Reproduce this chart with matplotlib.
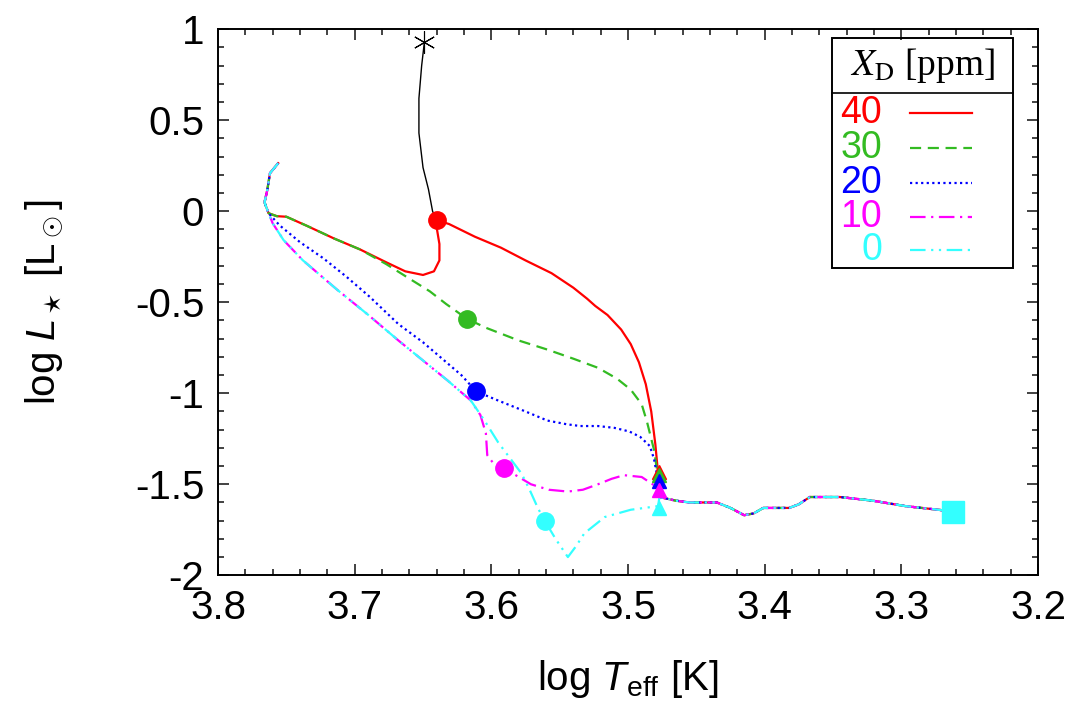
import matplotlib.pyplot as plt
from matplotlib.patches import Rectangle
from matplotlib.lines import Line2D
from matplotlib.ticker import MultipleLocator

plt.rcParams['font.family'] = ['Liberation Sans', 'DejaVu Sans']
plt.rcParams['mathtext.fontset'] = 'custom'
plt.rcParams['mathtext.rm'] = 'Liberation Sans'
plt.rcParams['mathtext.it'] = 'Liberation Sans:italic'

# wspolny poczatek (haczyk) i wspolny ogon torow ewolucyjnych
hook_T = [3.756, 3.762, 3.764, 3.766, 3.763]
hook_L = [0.264, 0.209, 0.115, 0.049, -0.011]
tail_T = [3.477, 3.465, 3.455, 3.445, 3.435, 3.425, 3.415, 3.408, 3.401,
          3.390, 3.382, 3.375, 3.367, 3.355, 3.345, 3.321, 3.297, 3.273, 3.262]
tail_L = [-1.57, -1.59, -1.60, -1.60, -1.60, -1.63, -1.67, -1.66, -1.63,
          -1.63, -1.63, -1.61, -1.57, -1.57, -1.57, -1.59, -1.62, -1.64, -1.65]

# X_D = 40 ppm
T40 = [3.757, 3.750, 3.735, 3.715, 3.696, 3.677, 3.663, 3.650, 3.642, 3.638,
       3.638, 3.640, 3.640, 3.631, 3.612, 3.593, 3.575, 3.556, 3.540, 3.530,
       3.524, 3.515, 3.505, 3.498, 3.492, 3.487, 3.483, 3.480, 3.478]
L40 = [-0.027, -0.03, -0.08, -0.15, -0.21, -0.28, -0.33, -0.35, -0.33, -0.27,
       -0.18, -0.09, -0.05, -0.07, -0.14, -0.20, -0.27, -0.34, -0.42, -0.48,
       -0.52, -0.57, -0.65, -0.73, -0.83, -0.95, -1.10, -1.28, -1.44]
# X_D = 30 ppm
T30 = [3.757, 3.750, 3.735, 3.715, 3.696, 3.677, 3.660, 3.645, 3.633, 3.618,
       3.604, 3.580, 3.559, 3.540, 3.522, 3.508, 3.498, 3.490, 3.486, 3.481,
       3.478]
L30 = [-0.027, -0.03, -0.08, -0.15, -0.21, -0.29, -0.37, -0.44, -0.51, -0.59,
       -0.64, -0.71, -0.76, -0.81, -0.86, -0.92, -0.98, -1.06, -1.16, -1.31,
       -1.46]
# X_D = 20 ppm
T20 = [3.755, 3.740, 3.723, 3.706, 3.689, 3.668, 3.650, 3.636, 3.622, 3.611,
       3.595, 3.575, 3.559, 3.545, 3.535, 3.522, 3.510, 3.499, 3.491, 3.484,
       3.481, 3.478]
L20 = [-0.077, -0.17, -0.258, -0.36, -0.47, -0.62, -0.72, -0.81, -0.90, -0.99,
       -1.04, -1.10, -1.15, -1.17, -1.18, -1.18, -1.19, -1.21, -1.24, -1.29,
       -1.36, -1.48]
# X_D = 10 ppm
T10 = [3.760, 3.752, 3.738, 3.713, 3.690, 3.668, 3.650, 3.632, 3.615, 3.608,
       3.604, 3.603, 3.598, 3.591, 3.580, 3.571, 3.558, 3.544, 3.533, 3.522,
       3.512, 3.503, 3.490, 3.478]
L10 = [-0.066, -0.159, -0.269, -0.43, -0.57, -0.71, -0.82, -0.93, -1.04, -1.12,
       -1.22, -1.34, -1.39, -1.41, -1.46, -1.50, -1.53, -1.54, -1.53, -1.50,
       -1.47, -1.45, -1.46, -1.52]
# X_D = 0 ppm
T0 = [3.760, 3.752, 3.738, 3.713, 3.690, 3.668, 3.650, 3.632, 3.615, 3.605,
      3.595, 3.586, 3.578, 3.572, 3.566, 3.561, 3.553, 3.544, 3.538, 3.532,
      3.517, 3.498, 3.478]
L0 = [-0.066, -0.159, -0.269, -0.43, -0.57, -0.71, -0.82, -0.93, -1.04, -1.15,
      -1.27, -1.36, -1.44, -1.53, -1.63, -1.70, -1.80, -1.90, -1.84, -1.77,
      -1.68, -1.64, -1.62]

# linia czarna (od gwiazdki do kropki 40 ppm)
black_T = [3.649, 3.651, 3.653, 3.653, 3.650, 3.646, 3.643, 3.640]
black_L = [0.93, 0.80, 0.62, 0.43, 0.24, 0.12, 0.0, -0.05]

labels = ['40', '30', '20', '10', '0']
colors = ['#ff0000', '#33bb22', '#0000ff', '#ff00ff', '#33ffff']
dashes = [(None, None), (5, 3), (1, 1.5), (7, 2.5, 1, 2.5), (7, 2.5, 1, 2.5, 1, 2.5)]
tracks_T = [T40, T30, T20, T10, T0]
tracks_L = [L40, L30, L20, L10, L0]

# kropki i trojkaty
dot_T = [3.640, 3.618, 3.611, 3.591, 3.561]
dot_L = [-0.05, -0.59, -0.99, -1.41, -1.70]
tri_T = [3.477, 3.477, 3.477, 3.477, 3.477]
tri_L = [-1.43, -1.45, -1.48, -1.53, -1.63]
star_T, star_L = 3.649, 0.93
end_T, end_L = 3.262, -1.65

fig = plt.figure(figsize=(10.81, 7.05), dpi=100)
ax = fig.add_axes([0.2017, 0.184, 0.7585, 0.7745])

ax.plot(black_T, black_L, color='black', lw=1.0, zorder=2)
ax.plot(star_T, star_L, marker=(6, 2, 0), ms=16, mec='black', mew=0.8,
        color='black', zorder=3)

for i in range(5):
    xs = hook_T + tracks_T[i] + tail_T
    ys = hook_L + tracks_L[i] + tail_L
    ln, = ax.plot(xs, ys, color=colors[i], lw=1.6, zorder=3 + i)
    if dashes[i][0] is not None:
        ln.set_dashes(dashes[i])

for i in range(5):
    ax.plot(dot_T[i], dot_L[i], 'o', color=colors[i], ms=12.5, zorder=10)
    ax.plot(tri_T[i], tri_L[i], '^', color=colors[i], ms=10, zorder=10)
ax.plot(end_T, end_L, 's', color=colors[4], ms=16, zorder=10)

ax.set_xlim(3.8, 3.2)
ax.set_ylim(-2, 1)
ax.xaxis.set_major_locator(MultipleLocator(0.1))
ax.xaxis.set_minor_locator(MultipleLocator(0.02))
ax.yaxis.set_major_locator(MultipleLocator(0.5))
ax.yaxis.set_minor_locator(MultipleLocator(0.1))
ax.set_xticks([3.8, 3.7, 3.6, 3.5, 3.4, 3.3, 3.2])
ax.set_xticklabels(['3.8', '3.7', '3.6', '3.5', '3.4', '3.3', '3.2'])
ax.set_yticks([1, 0.5, 0, -0.5, -1, -1.5, -2])
ax.set_yticklabels(['1', '0.5', '0', '-0.5', '-1', '-1.5', '-2'])
ax.tick_params(which='both', direction='in', top=True, right=True,
               labelsize=29, width=1.2, color='#222222')
ax.tick_params(which='major', length=8, pad=10)
ax.tick_params(which='minor', length=4)
for s in ax.spines.values():
    s.set_linewidth(1.4)

ax.set_xlabel(r'log $T_{\rm eff}$ [K]', fontsize=29, labelpad=22)
ax.set_ylabel(r'log $L_\star$ [L$_\odot$]', fontsize=29, labelpad=50)

# legenda rysowana recznie (w stylu gnuplota)
tr = ax.transAxes
ax.add_patch(Rectangle((0.749, 0.562), 0.221, 0.4215, transform=tr,
                       fill=False, ec='black', lw=1.4, zorder=20))
ax.add_line(Line2D([0.749, 0.970], [0.883, 0.883], transform=tr,
                   color='black', lw=1.2, zorder=20))
ax.text(0.859, 0.934, r'$X_{\rm D}$ [ppm]', transform=tr, ha='center',
        va='center', fontsize=27, family='Liberation Serif',
        math_fontfamily='stix', zorder=21)
leg_y = [0.846, 0.782, 0.718, 0.656, 0.595]
for i in range(5):
    ax.text(0.810, leg_y[i], labels[i], transform=tr, ha='right',
            va='center', fontsize=27, color=colors[i], zorder=21)
    ln = Line2D([0.844, 0.920], [leg_y[i], leg_y[i]], transform=tr,
                color=colors[i], lw=1.6, zorder=21)
    if dashes[i][0] is not None:
        ln.set_dashes(dashes[i])
    ax.add_line(ln)

fig.savefig('out.png', dpi=100)
